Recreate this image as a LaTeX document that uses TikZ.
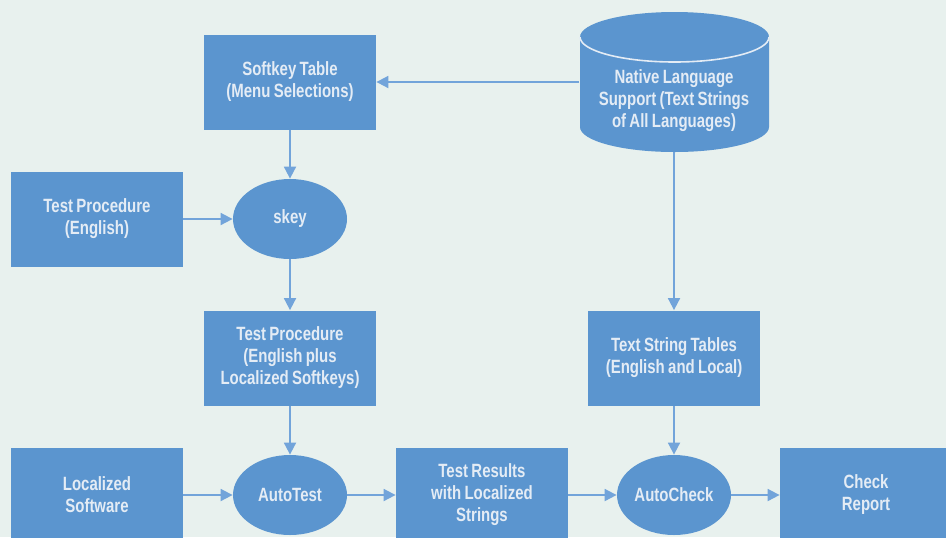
\documentclass[tikz,border=0pt]{standalone}
\usepackage{fontspec}
\newfontfamily\boxfont{Liberation Sans}[FakeStretch=0.78, WordSpace=0.8]
\usetikzlibrary{arrows.meta,shapes.geometric}

\definecolor{paper}{HTML}{E8F1EE}
\definecolor{boxblue}{HTML}{5B95CF}
\definecolor{linkblue}{HTML}{72A4DA}
\definecolor{labeltext}{HTML}{E4ECF5}

\begin{document}
\begin{tikzpicture}[
    x=0.5pt, y=0.5pt,
    label font/.style={
        font=\boxfont\bfseries\fontsize{9.6}{11}\selectfont,
        text=labeltext
    },
    block/.style={
        rectangle,
        fill=boxblue,
        label font,
        minimum width=86pt,
        minimum height=47.5pt,
        text width=82pt,
        align=flush center,
        inner sep=0pt
    },
    process/.style={
        ellipse,
        fill=boxblue,
        label font,
        minimum width=57pt,
        minimum height=40pt,
        align=center,
        inner sep=0pt
    },
    store/.style={
        rectangle,
        minimum width=94.5pt,
        minimum height=70pt,
        inner sep=0pt
    },
    link/.style={
        -{Triangle[length=6pt,width=6pt]},
        linkblue,
        line width=0.9pt
    }
]

%% --- page ---
\fill[paper] (0,0) rectangle (946,-537);
\useasboundingbox (0,0) rectangle (946,-537);

%% --- base de textes (cylindre) ---
\fill[boxblue] (580,-37) -- (580,-127)
    arc[start angle=180, end angle=360, x radius=94.5, y radius=25]
    -- (769,-37)
    arc[start angle=0, end angle=180, x radius=94.5, y radius=25] -- cycle;
\draw[labeltext, line width=0.8pt] (580,-37)
    arc[start angle=180, end angle=360, x radius=94.5, y radius=25];
\node[store] (nls) at (674,-82) {};
\node[label font, align=center] (nlstext) at (674,-101)
    {Native Language\\Support (Text Strings\\of All Languages)};

%% --- colonne gauche / milieu ---
\node[block] (soft)  at (290,-82)  {Softkey Table\\(Menu Selections)};
\node[block] (tpen)  at (97,-219)  {Test Procedure\\(English)};
\node[process] (skey) at (290,-219) {skey};
\node[block] (tploc) at (290,-358) {Test Procedure\\(English plus\\Localized Softkeys)};

%% --- colonne droite ---
\node[block] (tst)   at (674,-358) {Text String Tables\\(English and Local)};

%% --- ligne du bas ---
\node[block]   (locsw)     at (97,-495)  {Localized\\Software};
\node[process] (autotest)  at (290,-495) {AutoTest};
\node[block]   (results)   at (482,-495) {Test Results\\with Localized\\Strings};
\node[process] (autocheck) at (674,-495) {AutoCheck};
\node[block]   (report)    at (866,-495) {Check\\Report};

%% --- connexions ---
\draw[link] (nls) -- (soft);
\draw[link] (soft) -- (skey);
\draw[link] (tpen) -- (skey);
\draw[link] (skey) -- (tploc);
\draw[link] (nls) -- (tst);
\draw[link] (tploc) -- (autotest);
\draw[link] (tst) -- (autocheck);
\draw[link] (locsw) -- (autotest);
\draw[link] (autotest) -- (results);
\draw[link] (results) -- (autocheck);
\draw[link] (autocheck) -- (report);

\end{tikzpicture}
\end{document}
